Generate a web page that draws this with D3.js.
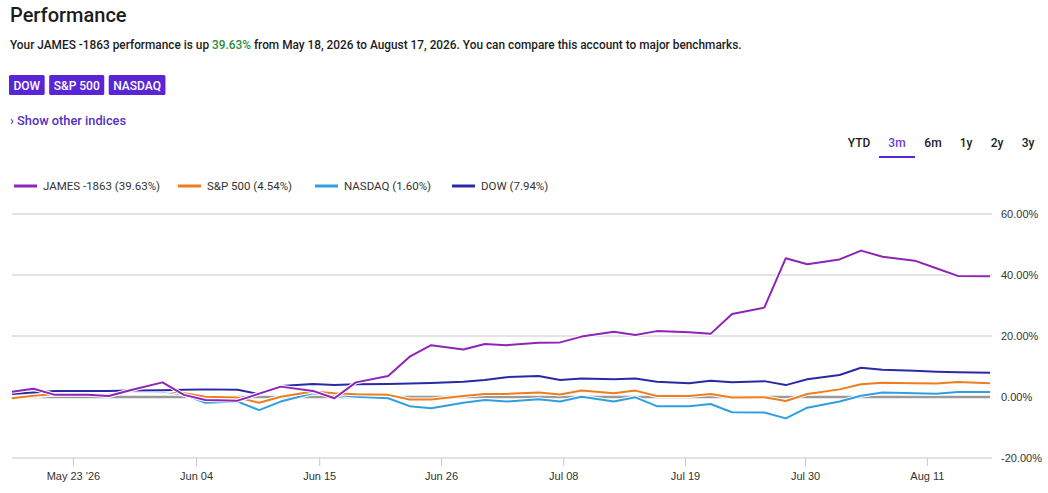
<!DOCTYPE html>
<html>
<head>
<meta charset="utf-8">
<script src="https://cdn.jsdelivr.net/npm/d3@7"></script>
<style>
  html, body { margin: 0; padding: 0; background: #fff; }
  svg { display: block; font-family: Roboto, "Liberation Sans", sans-serif; }
</style>
</head>
<body>
<svg id="chart"></svg>
<script>
// trading dates sampled Mon / Wed / Fri
const dates = [
  "2026-05-18","2026-05-20","2026-05-22","2026-05-25","2026-05-27","2026-05-29",
  "2026-06-01","2026-06-03","2026-06-05","2026-06-08","2026-06-10","2026-06-12",
  "2026-06-15","2026-06-17","2026-06-19","2026-06-22","2026-06-24","2026-06-26",
  "2026-06-29","2026-07-01","2026-07-03","2026-07-06","2026-07-08","2026-07-10",
  "2026-07-13","2026-07-15","2026-07-17","2026-07-20","2026-07-22","2026-07-24",
  "2026-07-27","2026-07-29","2026-07-31","2026-08-03","2026-08-05","2026-08-07",
  "2026-08-10","2026-08-12","2026-08-14","2026-08-17"
];

// percent change
const james = [1.7,2.7,0.7,0.7,0.3,2.2,4.8,0.7,-1.0,-1.2,1.1,3.4,2.0,-0.4,4.8,6.9,13.2,17.0,15.6,17.4,
  17.0,17.8,17.9,19.8,21.4,20.3,21.6,21.2,20.7,27.2,29.3,45.5,43.5,45.1,48.0,46.0,44.7,42.2,39.7,39.63];
const sp500 = [-0.4,0.4,1.0,1.5,1.7,2.3,2.3,1.2,0.1,-0.2,-1.9,0.1,1.8,1.2,0.9,0.7,-0.8,-0.8,0.3,1.0,
  1.0,1.5,0.8,2.1,1.2,2.1,0.3,0.3,1.0,-0.2,-0.1,-1.3,1.0,2.5,4.2,4.7,4.5,4.4,4.9,4.54];
const nasdaq = [-0.3,0.2,0.8,1.2,1.5,2.0,1.8,0.8,-1.9,-1.5,-4.3,-1.5,1.2,0.7,0.1,-0.4,-3.0,-3.7,-1.9,-1.0,
  -1.5,-0.7,-1.5,0.1,-1.5,-0.1,-3.0,-3.0,-2.3,-5.0,-5.1,-7.0,-3.5,-1.5,0.4,1.5,1.2,1.1,1.6,1.60];
const dow = [1.0,1.5,2.0,2.0,2.0,2.1,2.2,2.4,2.5,2.4,0.9,3.6,4.3,3.9,4.2,4.3,4.4,4.6,5.0,5.6,
  6.5,6.9,5.6,6.1,5.8,6.1,5.0,4.5,5.3,4.8,5.2,3.9,5.8,7.2,9.6,8.9,8.6,8.3,8.1,7.94];

const seriesNames = ["JAMES -1863 (39.63%)", "S&P 500 (4.54%)", "NASDAQ (1.60%)", "DOW (7.94%)"];
const seriesColors = ["#8e24b8", "#f07c1e", "#2f9fe2", "#2b2aa6"];

const yTicks = [-20, 0, 20, 40, 60];
const xTickDates = ["2026-05-23T16:00","2026-06-04T03:00","2026-06-15T14:00","2026-06-26T22:00",
  "2026-07-08T07:00","2026-07-19T15:00","2026-07-30T19:00","2026-08-11T03:00"];
const xTickLabels = ["May 23 '26","Jun 04","Jun 15","Jun 26","Jul 08","Jul 19","Jul 30","Aug 11"];

const benchmarks = ["DOW", "S&P 500", "NASDAQ"];
const ranges = ["YTD", "3m", "6m", "1y", "2y", "3y"];

const width = 1048, height = 493;
const svg = d3.select("#chart").attr("width", width).attr("height", height);

// ---- header ----
svg.append("text").attr("x", 10).attr("y", 22)
   .attr("font-size", 20).attr("font-weight", 500).attr("fill", "#1c1c1c")
   .text("Performance");

const sub = svg.append("text").attr("x", 10).attr("y", 49)
   .attr("font-size", 11.85).attr("font-weight", 500).attr("fill", "#1c1c1c");
sub.append("tspan").text("Your JAMES -1863 performance is up ");
sub.append("tspan").attr("fill", "#2e8b36").text("39.63%");
sub.append("tspan").text(" from May 18, 2026 to August 17, 2026. You can compare this account to major benchmarks.");

// benchmark chips
let bx = 9;
benchmarks.forEach(b => {
  const g = svg.append("g");
  const t = g.append("text").attr("x", bx + 4.5).attr("y", 89.5)
    .attr("font-size", 12).attr("font-weight", 500).attr("fill", "#fff").text(b);
  const w = t.node().getComputedTextLength() + 9;
  g.insert("rect", "text").attr("x", bx).attr("y", 75).attr("width", w).attr("height", 20)
    .attr("rx", 1.5).attr("fill", "#5a25d4");
  bx += w + 4.5;
});

svg.append("text").attr("x", 10).attr("y", 125)
   .attr("font-size", 12.8).attr("font-weight", 500).attr("fill", "#5531c0")
   .text("› Show other indices");

// range selector
const rangeX = [859, 897, 933, 966, 997, 1028];
ranges.forEach((r, i) => {
  svg.append("text").attr("x", rangeX[i]).attr("y", 147).attr("text-anchor", "middle")
    .attr("font-size", 12).attr("font-weight", 500)
    .attr("fill", r === "3m" ? "#6a3fd0" : "#222").text(r);
});
svg.append("rect").attr("x", 879).attr("y", 156).attr("width", 36).attr("height", 2).attr("fill", "#5a25d4");

// legend
const legendX = [14, 178, 315, 452];
seriesNames.forEach((n, i) => {
  svg.append("line").attr("x1", legendX[i]).attr("x2", legendX[i] + 23)
    .attr("y1", 186).attr("y2", 186).attr("stroke", seriesColors[i]).attr("stroke-width", 3);
  svg.append("text").attr("x", legendX[i] + 29).attr("y", 190)
    .attr("font-size", 11.5).attr("fill", "#333").text(n);
});

// ---- chart ----
const parse = d3.utcParse("%Y-%m-%d");
const parseT = d3.utcParse("%Y-%m-%dT%H:%M");
const days = dates.map(parse);

const x = d3.scaleUtc().domain([days[0], days[days.length - 1]]).range([12, 990]);
const y = d3.scaleLinear().domain([-20, 60]).range([458, 214]);

// gridlines
svg.append("g").selectAll("line").data(yTicks.filter(v => v !== 0)).enter().append("line")
   .attr("x1", 12).attr("x2", 992)
   .attr("y1", d => y(d)).attr("y2", d => y(d))
   .attr("stroke", "#c8c8c8").attr("stroke-width", 1);

// zero baseline
svg.append("line").attr("x1", x(days[0])).attr("x2", x(days[days.length - 1]))
   .attr("y1", y(0)).attr("y2", y(0)).attr("stroke", "#9a9a9a").attr("stroke-width", 2.5);

// y axis labels on the right
const yAxis = d3.axisRight(y).tickValues(yTicks).tickSize(0).tickPadding(0)
   .tickFormat(d => d.toFixed(2) + "%");
svg.append("g").attr("transform", "translate(1001,0)").call(yAxis)
   .call(g => g.select(".domain").remove())
   .selectAll("text").attr("font-size", 11).attr("fill", "#333").attr("font-family", null);

// x axis
const xAxis = d3.axisBottom(x).tickValues(xTickDates.map(parseT)).tickSize(8).tickPadding(6)
   .tickFormat((d, i) => xTickLabels[i]);
const xg = svg.append("g").attr("transform", "translate(0," + y(-20) + ")").call(xAxis);
xg.select(".domain").remove();
xg.selectAll(".tick line").attr("stroke", "#c8c8c8");
xg.selectAll("text").attr("font-size", 11).attr("fill", "#333").attr("font-family", null);

// series lines, drawn back to front with a thin white halo
const line = d3.line().x((d, i) => x(days[i])).y(d => y(d));
const drawOrder = [
  { v: nasdaq, c: seriesColors[2] },
  { v: sp500, c: seriesColors[1] },
  { v: dow, c: seriesColors[3] },
  { v: james, c: seriesColors[0] }
];
drawOrder.forEach(s => {
  svg.append("path").datum(s.v).attr("d", line).attr("fill", "none")
    .attr("stroke", "#fff").attr("stroke-width", 4).attr("stroke-linejoin", "round");
  svg.append("path").datum(s.v).attr("d", line).attr("fill", "none")
    .attr("stroke", s.c).attr("stroke-width", 2).attr("stroke-linejoin", "round");
});
</script>
</body>
</html>
